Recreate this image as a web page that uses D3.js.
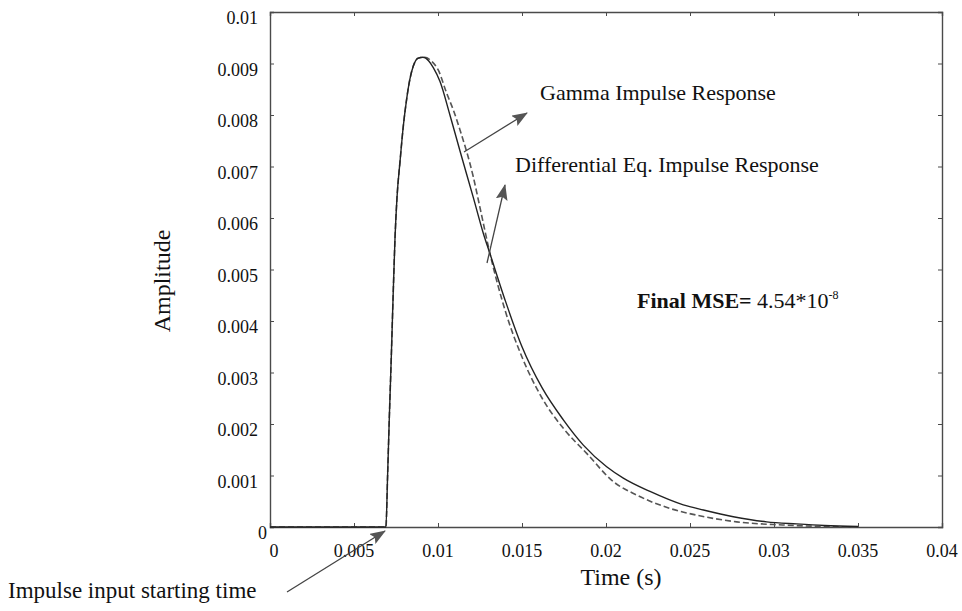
<!DOCTYPE html>
<html>
<head>
<meta charset="utf-8">
<script src="https://cdn.jsdelivr.net/npm/d3@7"></script>
<style>
  html, body { margin: 0; padding: 0; background: #fff; }
  svg { display: block; }
  text { font-family: "Liberation Serif", "Times New Roman", serif; fill: #111; }
</style>
</head>
<body>
<svg id="chart" width="962" height="611"></svg>
<script>
// Time samples (s) and amplitudes of the two impulse responses
const gammaTime = [0, 0.0069, 0.0070, 0.0071, 0.00722, 0.00733, 0.00744, 0.00756, 0.00774, 0.00794, 0.00813,
  0.00833, 0.00853, 0.0088, 0.0091, 0.00945, 0.00972, 0.01012, 0.01071, 0.01131, 0.0121, 0.0127, 0.0131,
  0.0140, 0.0150, 0.0162, 0.01746, 0.01865, 0.02004, 0.02103, 0.02262, 0.0246, 0.0258, 0.02758, 0.02956,
  0.03135, 0.0330, 0.0350];
const gammaAmp = [0, 0, 0.0010, 0.0021, 0.0033, 0.0045, 0.0056, 0.0064, 0.0071, 0.0078, 0.0083,
  0.0087, 0.00895, 0.0091, 0.00912, 0.00905, 0.00892, 0.00865, 0.0080, 0.0073, 0.0064, 0.0057, 0.0053,
  0.0044, 0.0035, 0.0027, 0.00208, 0.00159, 0.00117, 0.00095, 0.00069, 0.00043, 0.00033, 0.0002, 0.0001,
  0.00006, 0.00003, 0.00001];

const diffTime = [0, 0.0069, 0.0070, 0.0071, 0.00722, 0.00733, 0.00744, 0.00756, 0.00774, 0.00794, 0.00813,
  0.00833, 0.00853, 0.0088, 0.0092, 0.0096, 0.01002, 0.01052, 0.01091, 0.01131, 0.0121, 0.0125, 0.0131,
  0.0140, 0.0150, 0.0162, 0.0175, 0.01885, 0.02044, 0.02183, 0.02381, 0.0254, 0.02778, 0.0305, 0.0330,
  0.0350];
const diffAmp = [0, 0, 0.0010, 0.0021, 0.0033, 0.0045, 0.0056, 0.0064, 0.0071, 0.0078, 0.0083,
  0.0087, 0.00895, 0.0091, 0.00912, 0.00905, 0.00887, 0.00842, 0.0081, 0.00771, 0.0068, 0.0062, 0.0053,
  0.0042, 0.0033, 0.0025, 0.0019, 0.00143, 0.00088, 0.00062, 0.00036, 0.00023, 0.0001, 0.00004, 0.00001,
  0];

// Axis ticks
const xTicks = [0, 0.005, 0.01, 0.015, 0.02, 0.025, 0.03, 0.035, 0.04];
const xTickLabels = ["0", "0.005", "0.01", "0.015", "0.02", "0.025", "0.03", "0.035", "0.04"];
const yTicks = [0, 0.001, 0.002, 0.003, 0.004, 0.005, 0.006, 0.007, 0.008, 0.009, 0.01];
const yTickLabels = ["0", "0.001", "0.002", "0.003", "0.004", "0.005", "0.006", "0.007", "0.008", "0.009", "0.01"];

const svg = d3.select("#chart");
const plotLeft = 270, plotRight = 942, plotTop = 12, plotBottom = 527;

const x = d3.scaleLinear().domain([0, 0.04]).range([plotLeft, plotRight]);
const y = d3.scaleLinear().domain([0, 0.01]).range([plotBottom, plotTop]);

const frameColor = "#4a4a4a";

// Axes with inward ticks on all four sides
const axB = svg.append("g").attr("transform", `translate(0,${plotBottom})`)
  .call(d3.axisBottom(x).tickValues(xTicks).tickSize(-4).tickFormat(""));
const axT = svg.append("g").attr("transform", `translate(0,${plotTop})`)
  .call(d3.axisTop(x).tickValues(xTicks).tickSize(-4).tickFormat(""));
const axL = svg.append("g").attr("transform", `translate(${plotLeft},0)`)
  .call(d3.axisLeft(y).tickValues(yTicks).tickSize(-4).tickFormat(""));
const axR = svg.append("g").attr("transform", `translate(${plotRight},0)`)
  .call(d3.axisRight(y).tickValues(yTicks).tickSize(-4).tickFormat(""));
[axB, axT, axL, axR].forEach(g => {
  g.select(".domain").attr("stroke", frameColor).attr("stroke-width", 1.4);
  g.selectAll(".tick line").attr("stroke", frameColor).attr("stroke-width", 1);
});

// Tick labels
svg.append("g").selectAll("text").data(xTicks).join("text")
  .attr("x", (d, i) => x(d) + (i === 0 ? 4 : 0))
  .attr("y", plotBottom + 30)
  .attr("text-anchor", "middle")
  .attr("font-size", 18)
  .text((d, i) => xTickLabels[i]);

svg.append("g").selectAll("text").data(yTicks).join("text")
  .attr("x", (d, i) => i === 0 ? plotLeft - 3 : plotLeft - 12)
  .attr("y", d => y(d) + 12)
  .attr("text-anchor", "end")
  .attr("font-size", 18)
  .text((d, i) => yTickLabels[i]);

// Axis titles
svg.append("text")
  .attr("x", 621).attr("y", 585)
  .attr("text-anchor", "middle")
  .attr("font-size", 24)
  .text("Time (s)");

svg.append("text")
  .attr("transform", "translate(170,281) rotate(-90)")
  .attr("text-anchor", "middle")
  .attr("font-size", 24)
  .text("Amplitude");

// Response curves
const line = d3.line().x(d => x(d[0])).y(d => y(d[1])).curve(d3.curveMonotoneX);

svg.append("path")
  .datum(diffTime.map((t, i) => [t, diffAmp[i]]))
  .attr("d", line)
  .attr("fill", "none")
  .attr("stroke", "#555")
  .attr("stroke-width", 1.6)
  .attr("stroke-dasharray", "6,3");

svg.append("path")
  .datum(gammaTime.map((t, i) => [t, gammaAmp[i]]))
  .attr("d", line)
  .attr("fill", "none")
  .attr("stroke", "#222")
  .attr("stroke-width", 1.4);

// Annotation arrows
const defs = svg.append("defs");
defs.append("marker")
  .attr("id", "head")
  .attr("viewBox", "0 0 16 12")
  .attr("refX", 15).attr("refY", 6)
  .attr("markerWidth", 16).attr("markerHeight", 12)
  .attr("markerUnits", "userSpaceOnUse")
  .attr("orient", "auto")
  .append("path")
  .attr("d", "M0,0 L16,6 L0,12 L3,6 Z")
  .attr("fill", "#555");

const arrows = [
  [[464, 152], [527, 113]],
  [[487, 263], [505, 185]],
  [[287, 592], [385, 531]]
];
svg.append("g").selectAll("line").data(arrows).join("line")
  .attr("x1", d => d[0][0]).attr("y1", d => d[0][1])
  .attr("x2", d => d[1][0]).attr("y2", d => d[1][1])
  .attr("stroke", "#444")
  .attr("stroke-width", 1.3)
  .attr("marker-end", "url(#head)");

// Annotation text
svg.append("text").attr("x", 540).attr("y", 100).attr("font-size", 22)
  .text("Gamma Impulse Response");
svg.append("text").attr("x", 515).attr("y", 172).attr("font-size", 22)
  .text("Differential Eq. Impulse Response");

const mse = svg.append("text").attr("x", 637).attr("y", 308).attr("font-size", 22);
mse.append("tspan").attr("font-weight", "bold").text("Final MSE=");
mse.append("tspan").text(" 4.54*10");
mse.append("tspan").attr("font-size", 12).attr("dy", -9).text("-8");

svg.append("text").attr("x", 8).attr("y", 598).attr("font-size", 23)
  .text("Impulse input starting time");
</script>
</body>
</html>
